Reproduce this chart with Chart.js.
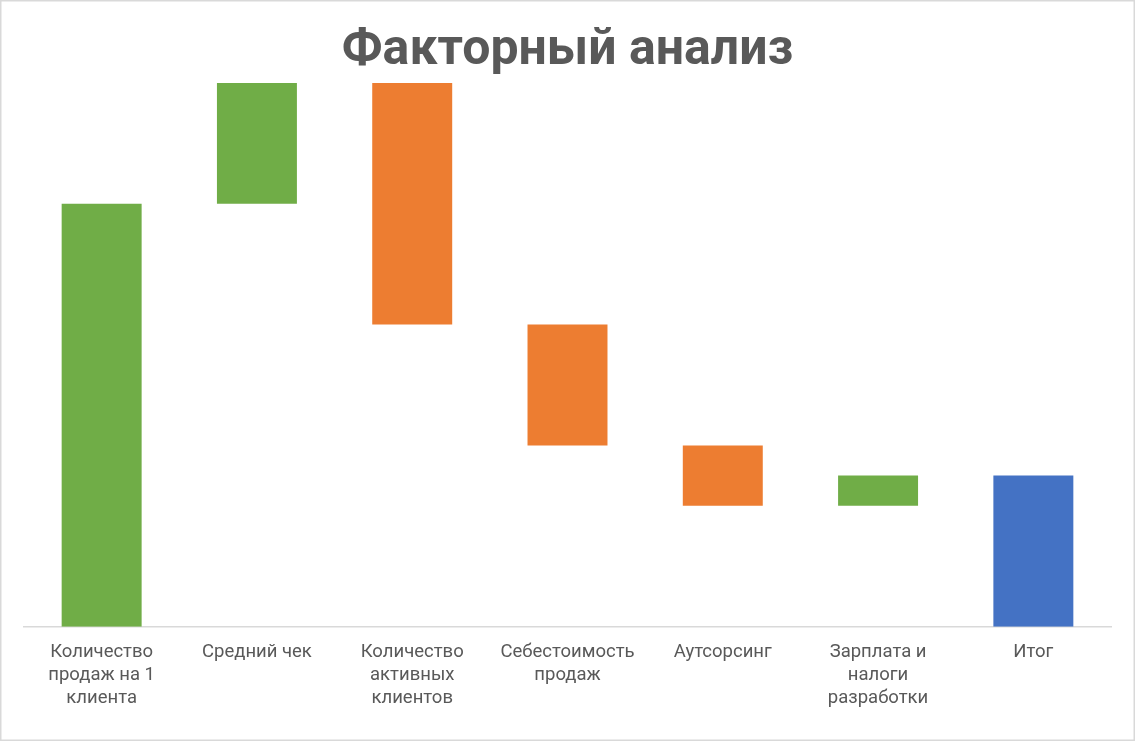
<!DOCTYPE html>
<html>
<head>
<meta charset="utf-8">
<script src="https://cdn.jsdelivr.net/npm/chart.js@4/dist/chart.umd.min.js"></script>
<style>
  html, body { margin: 0; padding: 0; background: #fff; }
  #wrap { position: relative; width: 1135px; height: 741px; }
</style>
</head>
<body>
<div id="wrap"><canvas id="chart"></canvas></div>
<script>
const categories = [
  ['Количество', 'продаж на 1', 'клиента'],
  'Средний чек',
  ['Количество', 'активных', 'клиентов'],
  ['Себестоимость', 'продаж'],
  'Аутсорсинг',
  ['Зарплата и', 'налоги', 'разработки'],
  'Итог'
];
// waterfall segments: bottom and top of each bar
const barStart = [0, 35, 25, 15, 10, 10, 0];
const barEnd = [35, 45, 45, 25, 15, 12.5, 12.5];
const barKind = ['up', 'up', 'down', 'down', 'down', 'up', 'total'];

const KIND_COLORS = { up: '#70AD47', down: '#ED7D31', total: '#4472C4' };

const frame = {
  id: 'frame',
  afterDraw(chart) {
    const ctx = chart.ctx;
    ctx.save();
    ctx.strokeStyle = '#d9d9d9';
    ctx.lineWidth = 1.5;
    ctx.strokeRect(0.75, 0.75, chart.width - 1.5, chart.height - 1.5);
    ctx.restore();
  }
};

// eslint-disable-next-line no-new
new Chart(document.getElementById('chart'), {
  type: 'bar',
  data: {
    labels: categories,
    datasets: [{
      data: barStart.map((start, i) => [start, barEnd[i]]),
      backgroundColor: barKind.map(kind => KIND_COLORS[kind]),
      borderWidth: 0,
      barPercentage: 0.515,
      categoryPercentage: 1
    }]
  },
  options: {
    responsive: true,
    maintainAspectRatio: false,
    animation: false,
    layout: { padding: { left: 24, right: 24, top: 0, bottom: 17 } },
    plugins: {
      legend: { display: false },
      tooltip: { enabled: false },
      title: {
        display: true,
        text: 'Факторный анализ',
        color: '#595959',
        font: { family: 'Roboto', size: 50, weight: 'bold', lineHeight: 1.2 },
        padding: { top: 21, bottom: 2 }
      }
    },
    scales: {
      x: {
        grid: { display: false, drawTicks: false },
        border: { display: true, color: '#d9d9d9', width: 1.5 },
        ticks: {
          color: '#595959',
          font: { family: 'Roboto', size: 18.5, lineHeight: 1.25 },
          padding: 14,
          maxRotation: 0,
          autoSkip: false
        }
      },
      y: {
        display: false,
        min: 0,
        max: 45
      }
    }
  },
  plugins: [frame]
});
</script>
</body>
</html>
